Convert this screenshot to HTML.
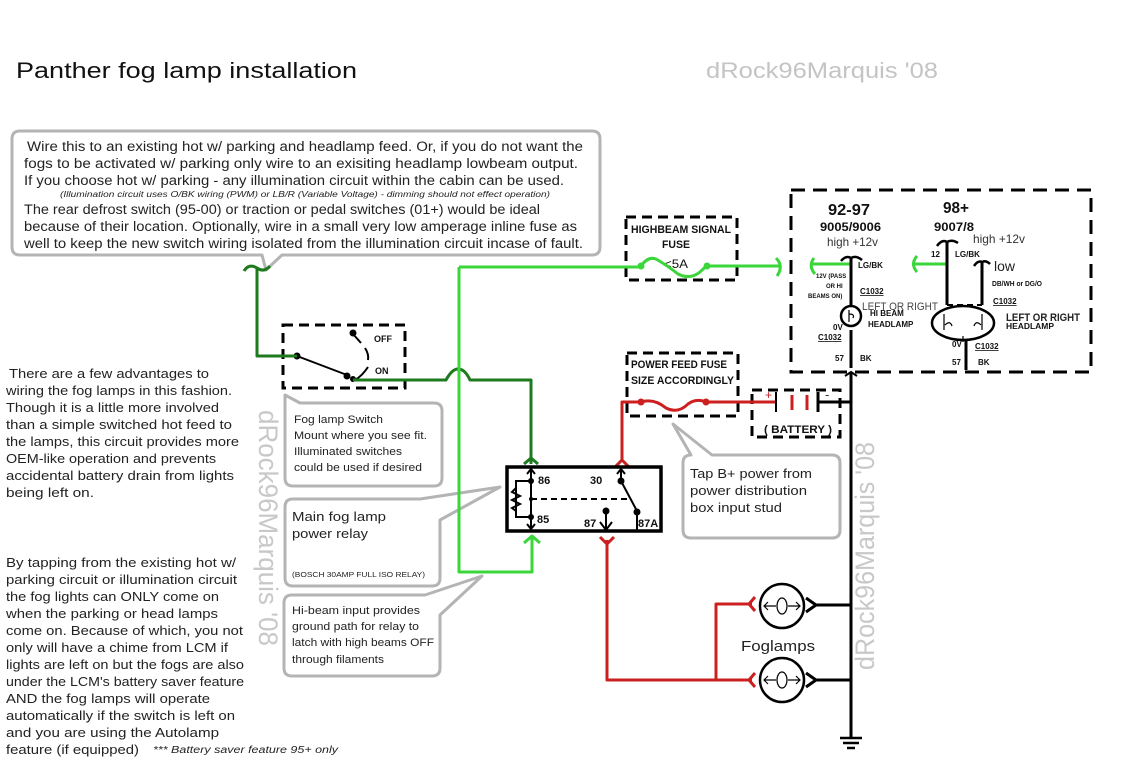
<!DOCTYPE html>
<html><head><meta charset="utf-8"><style>
html,body{margin:0;padding:0;background:#fff;}
svg{display:block;}
text{font-family:"Liberation Sans",sans-serif;}
</style></head><body>
<svg width="1126" height="762" viewBox="0 0 1126 762" xmlns="http://www.w3.org/2000/svg">
<rect width="1126" height="762" fill="#fff"/>

<!-- Title & watermark -->
<text x="16" y="78" font-size="22" fill="#111" textLength="341" lengthAdjust="spacingAndGlyphs">Panther fog lamp installation</text>
<text x="706" y="78" font-size="22" fill="#c4c4c4" textLength="232" lengthAdjust="spacingAndGlyphs">dRock96Marquis '08</text>

<!-- Vertical watermarks -->
<text transform="translate(259,410) rotate(90)" font-size="27" fill="#c8c8c8" textLength="236" lengthAdjust="spacingAndGlyphs">dRock96Marquis '08</text>
<text transform="translate(874,670) rotate(-90)" font-size="27" fill="#c8c8c8" textLength="228" lengthAdjust="spacingAndGlyphs">dRock96Marquis '08</text>

<!-- Callouts -->
<g fill="#fff" stroke="#b4b4b4" stroke-width="3" stroke-linejoin="round">
<path d="M20,131 H592 Q600,131 600,139 V247 Q600,255 592,255 H282 L266,270 L262,255 H20 Q12,255 12,247 V139 Q12,131 20,131 Z"/>
<path d="M285,395 L300,403 H434 Q442,403 442,411 V478 Q442,486 434,486 H293 Q285,486 285,478 V395 Z"/>
<path d="M293,499 H420 L500,487 L440,520 V578 Q440,586 432,586 H293 Q285,586 285,578 V507 Q285,499 293,499 Z"/>
<path d="M292,595 H425 L482,576 L440,615 V668 Q440,676 432,676 H292 Q284,676 284,668 V603 Q284,595 292,595 Z"/>
<path d="M691,455 L673,424 L712,455 H832 Q840,455 840,463 V530 Q840,538 832,538 H691 Q683,538 683,530 V463 Q683,455 691,455 Z"/>
</g>

<!-- Top callout text -->
<g font-size="13.5" fill="#222">
<text x="27" y="151" textLength="556" lengthAdjust="spacingAndGlyphs">Wire this to an existing hot w/ parking and headlamp feed. Or, if you do not want the</text>
<text x="24" y="168" textLength="554" lengthAdjust="spacingAndGlyphs">fogs to be activated w/ parking only wire to an exisiting headlamp lowbeam output.</text>
<text x="24" y="185" textLength="540" lengthAdjust="spacingAndGlyphs">If you choose hot w/ parking - any illumination circuit within the cabin can be used.</text>
<text x="60" y="197" font-size="8" font-style="italic" textLength="490" lengthAdjust="spacingAndGlyphs">(Illumination circuit uses O/BK wiring (PWM) or LB/R (Variable Voltage) - dimming should not effect operation)</text>
<text x="24" y="214" textLength="516" lengthAdjust="spacingAndGlyphs">The rear defrost switch (95-00) or traction or pedal switches (01+) would be ideal</text>
<text x="24" y="231" textLength="553" lengthAdjust="spacingAndGlyphs">because of their location. Optionally, wire in a small very low amperage inline fuse as</text>
<text x="24" y="248" textLength="559" lengthAdjust="spacingAndGlyphs">well to keep the new switch wiring isolated from the illumination circuit incase of fault.</text>
</g>

<!-- Callout texts -->
<g font-size="11" fill="#222">
<text x="294" y="423" textLength="89" lengthAdjust="spacingAndGlyphs">Fog lamp Switch</text>
<text x="294" y="439" textLength="133" lengthAdjust="spacingAndGlyphs">Mount where you see fit.</text>
<text x="294" y="455" textLength="108" lengthAdjust="spacingAndGlyphs">Illuminated switches</text>
<text x="294" y="471" textLength="128" lengthAdjust="spacingAndGlyphs">could be used if desired</text>
<text x="292" y="614" textLength="128" lengthAdjust="spacingAndGlyphs">Hi-beam input provides</text>
<text x="292" y="630" textLength="127" lengthAdjust="spacingAndGlyphs">ground path for relay to</text>
<text x="292" y="646" textLength="142" lengthAdjust="spacingAndGlyphs">latch with high beams OFF</text>
<text x="292" y="663" textLength="92" lengthAdjust="spacingAndGlyphs">through filaments</text>
</g>
<text x="292" y="521" font-size="13" fill="#222" textLength="94" lengthAdjust="spacingAndGlyphs">Main fog lamp</text>
<text x="292" y="538" font-size="13" fill="#222" textLength="76" lengthAdjust="spacingAndGlyphs">power relay</text>
<text x="292" y="577" font-size="7" fill="#222" textLength="133" lengthAdjust="spacingAndGlyphs">(BOSCH 30AMP FULL ISO RELAY)</text>
<g font-size="13" fill="#222">
<text x="690" y="478" textLength="122" lengthAdjust="spacingAndGlyphs">Tap B+ power from</text>
<text x="690" y="495" textLength="117" lengthAdjust="spacingAndGlyphs">power distribution</text>
<text x="690" y="512" textLength="92" lengthAdjust="spacingAndGlyphs">box input stud</text>
</g>

<!-- Left text blocks -->
<g font-size="13" fill="#222">
<text x="9" y="378" textLength="200" lengthAdjust="spacingAndGlyphs">There are a few advantages to</text>
<text x="6" y="395" textLength="226" lengthAdjust="spacingAndGlyphs">wiring the fog lamps in this fashion.</text>
<text x="6" y="412" textLength="213" lengthAdjust="spacingAndGlyphs">Though it is a little more involved</text>
<text x="6" y="429" textLength="226" lengthAdjust="spacingAndGlyphs">than a simple switched hot feed to</text>
<text x="6" y="446" textLength="233" lengthAdjust="spacingAndGlyphs">the lamps, this circuit provides more</text>
<text x="6" y="463" textLength="210" lengthAdjust="spacingAndGlyphs">OEM-like operation and prevents</text>
<text x="6" y="480" textLength="228" lengthAdjust="spacingAndGlyphs">accidental battery drain from lights</text>
<text x="6" y="497" textLength="88" lengthAdjust="spacingAndGlyphs">being left on.</text>

<text x="6" y="567" textLength="230" lengthAdjust="spacingAndGlyphs">By tapping from the existing hot w/</text>
<text x="6" y="584" textLength="231" lengthAdjust="spacingAndGlyphs">parking circuit or illumination circuit</text>
<text x="6" y="601" textLength="213" lengthAdjust="spacingAndGlyphs">the fog lights can ONLY come on</text>
<text x="6" y="618" textLength="212" lengthAdjust="spacingAndGlyphs">when the parking or head lamps</text>
<text x="6" y="635" textLength="237" lengthAdjust="spacingAndGlyphs">come on. Because of which, you not</text>
<text x="6" y="652" textLength="222" lengthAdjust="spacingAndGlyphs">only will have a chime from LCM if</text>
<text x="6" y="669" textLength="238" lengthAdjust="spacingAndGlyphs">lights are left on but the fogs are also</text>
<text x="6" y="686" textLength="238" lengthAdjust="spacingAndGlyphs">under the LCM's battery saver feature</text>
<text x="6" y="703" textLength="204" lengthAdjust="spacingAndGlyphs">AND the fog lamps will operate</text>
<text x="6" y="720" textLength="229" lengthAdjust="spacingAndGlyphs">automatically if the switch is left on</text>
<text x="6" y="737" textLength="213" lengthAdjust="spacingAndGlyphs">and you are using the Autolamp</text>
<text x="6" y="754" textLength="133" lengthAdjust="spacingAndGlyphs">feature (if equipped)</text>
</g>
<text x="153" y="753" font-size="10" font-style="italic" fill="#222" textLength="185" lengthAdjust="spacingAndGlyphs">*** Battery saver feature 95+ only</text>

<!-- Dashed boxes -->
<g fill="none" stroke="#000" stroke-width="3" stroke-dasharray="10,6">
<rect x="283" y="325" width="122" height="63"/>
<rect x="626" y="217" width="111" height="63"/>
<rect x="627" y="353" width="111" height="63"/>
<rect x="752" y="390" width="88" height="47"/>
<rect x="791" y="190" width="300" height="182" stroke-dasharray="14,8"/>
</g>

<!-- Fuse box texts -->
<g font-size="11" font-weight="bold" fill="#111">
<text x="631" y="233" textLength="100" lengthAdjust="spacingAndGlyphs">HIGHBEAM SIGNAL</text>
<text x="662" y="248" textLength="28" lengthAdjust="spacingAndGlyphs">FUSE</text>
<text x="631" y="368" textLength="96" lengthAdjust="spacingAndGlyphs">POWER FEED FUSE</text>
<text x="631" y="384" textLength="103" lengthAdjust="spacingAndGlyphs">SIZE ACCORDINGLY</text>
<text x="764" y="433" textLength="68" lengthAdjust="spacingAndGlyphs">( BATTERY )</text>
</g>
<text x="664" y="268" font-size="12" fill="#111" textLength="24" lengthAdjust="spacingAndGlyphs">&lt;5A</text>

<!-- Switch -->
<g fill="none" stroke="#000" stroke-width="2">
<line x1="297" y1="356" x2="347" y2="375"/>
<line x1="353" y1="334" x2="361" y2="343"/>
<path d="M365,348 Q369,354 368,360"/>
<path d="M368,367 Q362,376 355,380"/>
</g>
<g fill="#000">
<circle cx="297" cy="356" r="3.5"/>
<circle cx="353" cy="333" r="3.5"/>
<circle cx="347" cy="376" r="3.5"/>
<circle cx="353" cy="379" r="3"/>
</g>
<text x="374" y="342" font-size="9" font-weight="bold" fill="#111">OFF</text>
<text x="375" y="374" font-size="9" font-weight="bold" fill="#111">ON</text>

<!-- Dark green wires -->
<g fill="none" stroke="#1d7a1d" stroke-width="3" stroke-linejoin="round">
<path d="M257,268 V356 H297"/>
<path d="M244,271 Q249,263 257,268 Q264,273 270,266"/>
<path d="M353,380 H446 Q452,369 458,369 Q465,369 470,380 H531 V464"/>
<path d="M524,464 L531,458 L538,464"/>
</g>

<!-- Bright green wires -->
<g fill="none" stroke="#3ad63a" stroke-width="3" stroke-linejoin="round">
<path d="M459,267 H640"/>
<path d="M641,266 Q648,256 656,259 Q668,266 678,274 Q690,280 700,272 Q704,268 707,266"/>
<path d="M707,266 H780"/>
<path d="M776,258 Q784,266 777,276"/>
<path d="M459,267 V572 H532 V536"/>
<path d="M524,543 L532,536 L540,543"/>
<path d="M814,258 Q808,266 815,274"/>
<path d="M811,264 H851"/>
<path d="M917,256 Q910,264 917,272"/>
<path d="M913,264 H947"/>
</g>
<circle cx="641" cy="266" r="3.5" fill="#3ad63a"/>
<circle cx="707" cy="266" r="3.5" fill="#3ad63a"/>

<!-- Red wires -->
<g fill="none" stroke="#cc2020" stroke-width="3" stroke-linejoin="round">
<path d="M775,402 H706"/>
<path d="M706,402 Q696,398 688,404 Q678,414 666,408 Q654,398 641,402"/>
<path d="M641,402 H622 V462"/>
<path d="M615,467 L622,460 L629,467"/>
<path d="M607,540 V680 H752"/>
<path d="M600,537 L607,544 L614,537"/>
<path d="M716,680 V604 H752"/>
<path d="M755,597 L749,604 L755,611"/>
<path d="M755,673 L749,680 L755,687"/>
<line x1="792" y1="395" x2="792" y2="410"/>
<line x1="807" y1="395" x2="807" y2="410"/>
</g>
<circle cx="641" cy="402" r="3.5" fill="#cc2020"/>
<circle cx="706" cy="402" r="3.5" fill="#cc2020"/>
<text x="765" y="399" font-size="12" fill="#cc2020">+</text>
<text x="825" y="399" font-size="13" fill="#333">-</text>
<!-- Battery black parts -->
<g stroke="#000" fill="none">
<line x1="776" y1="392" x2="776" y2="412" stroke-width="2"/>
<line x1="818" y1="392" x2="818" y2="412" stroke-width="3"/>
<line x1="818" y1="402" x2="851" y2="402" stroke-width="3"/>
</g>

<!-- Relay -->
<rect x="507" y="467" width="154" height="64" fill="#fff" stroke="#000" stroke-width="3.5"/>
<g fill="none" stroke="#000" stroke-width="2">
<line x1="531" y1="470" x2="531" y2="528"/>
<path d="M527,474 L531,469 L535,474"/>
<path d="M527,524 L531,529 L535,524"/>
<path d="M531,481 H516 V517 H531"/>
<path d="M516,488 L512,492 L520,496 L512,500 L520,504 L512,508 L516,511"/>
<line x1="531" y1="499" x2="630" y2="499" stroke-dasharray="6,4"/>
<line x1="621" y1="470" x2="621" y2="480"/>
<path d="M617,474 L621,469 L625,474"/>
<line x1="621" y1="481" x2="637" y2="511"/>
<line x1="637" y1="512" x2="637" y2="530"/>
<line x1="606" y1="512" x2="606" y2="530"/>
<path d="M600,522 L606,530 L612,522"/>
</g>
<g fill="#000">
<circle cx="531" cy="481" r="3"/>
<circle cx="531" cy="517" r="3"/>
<circle cx="531" cy="499" r="2"/>
<circle cx="621" cy="481" r="3.5"/>
<circle cx="637" cy="512" r="3.5"/>
<circle cx="606" cy="511" r="3.5"/>
</g>
<g font-size="11" font-weight="bold" fill="#111">
<text x="538" y="484">86</text>
<text x="537" y="523">85</text>
<text x="590" y="484">30</text>
<text x="584" y="527">87</text>
<text x="638" y="527">87A</text>
</g>

<!-- Main ground line -->
<g stroke="#000" fill="none">
<line x1="851" y1="372" x2="851" y2="738" stroke-width="3"/>
<line x1="840" y1="738" x2="862" y2="738" stroke-width="2.5"/>
<line x1="843" y1="743" x2="859" y2="743" stroke-width="2.5"/>
<line x1="847" y1="748" x2="855" y2="748" stroke-width="2.5"/>
<path d="M845,376 L851,372 L857,376" stroke-width="2"/>
</g>

<!-- Foglamps -->
<g fill="#fff" stroke="#000" stroke-width="2.5">
<circle cx="782" cy="606" r="22"/>
<circle cx="782" cy="680" r="22"/>
</g>
<g fill="none" stroke="#000" stroke-width="1.2">
<path d="M764,606 H776 M788,606 H800 M768,602 L764,606 L768,610 M796,602 L800,606 L796,610"/>
<ellipse cx="782" cy="606" rx="5" ry="8"/>
<path d="M764,680 H776 M788,680 H800 M768,676 L764,680 L768,684 M796,676 L800,680 L796,684"/>
<ellipse cx="782" cy="680" rx="5" ry="8"/>
</g>
<g fill="none" stroke="#000" stroke-width="3">
<path d="M806,598 L816,605 L806,612"/>
<path d="M806,673 L816,680 L806,687"/>
<line x1="816" y1="605" x2="851" y2="605"/>
<line x1="816" y1="680" x2="851" y2="680"/>
</g>
<text x="741" y="651" font-size="15" fill="#222" textLength="74" lengthAdjust="spacingAndGlyphs">Foglamps</text>

<!-- Headlamp box content -->
<text x="828" y="215" font-size="16" font-weight="bold" fill="#111" textLength="42" lengthAdjust="spacingAndGlyphs">92-97</text>
<text x="820" y="231" font-size="12" font-weight="bold" fill="#111" textLength="61" lengthAdjust="spacingAndGlyphs">9005/9006</text>
<text x="827" y="246" font-size="12" fill="#333" textLength="51" lengthAdjust="spacingAndGlyphs">high +12v</text>
<text x="943" y="213" font-size="16" font-weight="bold" fill="#111" textLength="26" lengthAdjust="spacingAndGlyphs">98+</text>
<text x="934" y="231" font-size="12" font-weight="bold" fill="#111" textLength="40" lengthAdjust="spacingAndGlyphs">9007/8</text>
<text x="973" y="243" font-size="12" fill="#333" textLength="52" lengthAdjust="spacingAndGlyphs">high +12v</text>

<g stroke="#000" fill="none" stroke-width="3">
<line x1="851" y1="258" x2="851" y2="305"/>
<path d="M841,261 Q846,255 851,258 Q856,255 862,260" stroke-width="2.5"/>
<line x1="851" y1="330" x2="851" y2="368"/>
<line x1="947" y1="242" x2="947" y2="305"/>
<path d="M937,246 Q942,239 947,242 Q952,239 958,243" stroke-width="2.5"/>
<line x1="982" y1="262" x2="982" y2="305"/>
<path d="M974,266 Q978,260 982,262 Q986,260 990,264" stroke-width="2.5"/>
<line x1="966" y1="340" x2="966" y2="370"/>
</g>
<line x1="947" y1="305" x2="982" y2="305" stroke="#000" stroke-width="2" stroke-dasharray="6,4"/>
<circle cx="851" cy="316" r="10" fill="#fff" stroke="#000" stroke-width="2.5"/>
<path d="M849,310 V322 M849,314 Q855,314 853,318" fill="none" stroke="#000" stroke-width="1.2"/>
<ellipse cx="963" cy="323" rx="31" ry="17" fill="#fff" stroke="#000" stroke-width="2.5"/>
<path d="M944,314 V330 M982,314 V330 M945,325 Q950,320 952,326 M981,325 Q976,320 974,326 M963,336 V342" fill="none" stroke="#000" stroke-width="1.2"/>

<g font-size="8" font-weight="bold" fill="#111">
<text x="858" y="268">LG/BK</text>
<text x="931" y="257">12</text>
<text x="955" y="257">LG/BK</text>
<text x="860" y="294" text-decoration="underline">C1032</text>
<text x="993" y="304" text-decoration="underline">C1032</text>
<text x="870" y="316">HI BEAM</text>
<text x="868" y="327">HEADLAMP</text>
<text x="1006" y="329" textLength="48" lengthAdjust="spacingAndGlyphs">HEADLAMP</text>
<text x="833" y="330">0V</text>
<text x="818" y="340" text-decoration="underline">C1032</text>
<text x="835" y="361">57</text>
<text x="860" y="361">BK</text>
<text x="952" y="347">0V</text>
<text x="975" y="349" text-decoration="underline">C1032</text>
<text x="952" y="365">57</text>
<text x="978" y="365">BK</text>
<text x="992" y="286" font-size="7" textLength="50" lengthAdjust="spacingAndGlyphs">DB/WH or DG/O</text>
</g>
<g font-size="6" font-weight="bold" fill="#111">
<text x="816" y="278">12V (PASS</text>
<text x="826" y="288">OR HI</text>
<text x="808" y="298">BEAMS ON)</text>
</g>
<text x="862" y="310" font-size="11" fill="#444" textLength="76" lengthAdjust="spacingAndGlyphs">LEFT OR RIGHT</text>
<text x="1006" y="321" font-size="11" font-weight="bold" fill="#222" textLength="74" lengthAdjust="spacingAndGlyphs">LEFT OR RIGHT</text>
<text x="994" y="271" font-size="14" fill="#222">low</text>
</svg>
</body></html>
